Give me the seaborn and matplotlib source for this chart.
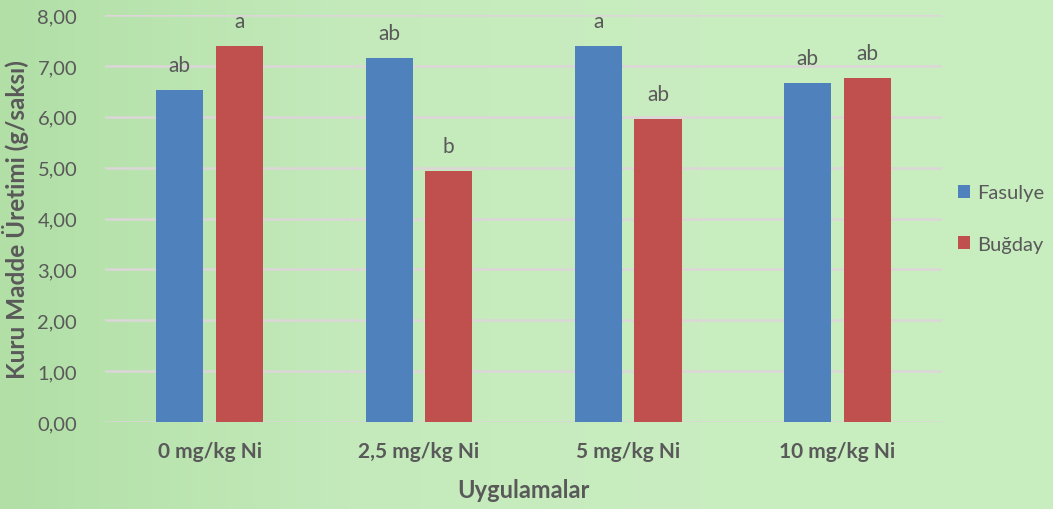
import numpy as np
import pandas as pd
import matplotlib
matplotlib.use("Agg")
import matplotlib.pyplot as plt
import seaborn as sns
from matplotlib.colors import LinearSegmentedColormap

categories = ["0 mg/kg Ni", "2,5 mg/kg Ni", "5 mg/kg Ni", "10 mg/kg Ni"]
series_names = ["Fasulye", "Buğday"]
fasulye = [6.53, 7.15, 7.39, 6.66]
bugday = [7.39, 4.93, 5.96, 6.76]
letters_fasulye = ["ab", "ab", "a", "ab"]
letters_bugday = ["a", "b", "ab", "ab"]
yticks = [0, 1, 2, 3, 4, 5, 6, 7, 8]

df = pd.DataFrame({
    "Uygulamalar": categories * 2,
    "Seri": [series_names[0]] * 4 + [series_names[1]] * 4,
    "Deger": fasulye + bugday,
})

sns.set_theme(style="white")
plt.rcParams["font.family"] = ["Lato", "DejaVu Sans"]
text_color = "#595959"

fig = plt.figure(figsize=(10.53, 5.10), dpi=100)
# background gradient
bg = fig.add_axes([0, 0, 1, 1], zorder=-10)
cmap = LinearSegmentedColormap.from_list("bg", ["#b1dfa6", "#c4eabb", "#c9edc0", "#c8edbf"])
grad = np.linspace(0, 1, 256).reshape(1, -1)
bg.imshow(grad, aspect="auto", cmap=cmap, extent=[0, 1, 0, 1])
bg.axis("off")

ax = fig.add_axes([0.0997, 0.1706, 0.795, 0.798])
ax.set_facecolor("none")

sns.barplot(data=df, x="Uygulamalar", y="Deger", hue="Seri",
            order=categories, hue_order=series_names,
            palette=["#4f81bd", "#c0504d"], width=0.57, gap=0.21,
            saturation=1, linewidth=0, edgecolor="none", ax=ax, zorder=3)

for cont, labs in zip(ax.containers, [letters_fasulye, letters_bugday]):
    ax.bar_label(cont, labels=labs, padding=11, fontsize=15, color=text_color)

ax.set_ylim(0, 8)
ax.set_xlim(-0.5, 3.5)
ax.set_yticks(yticks)
ax.set_yticklabels([f"{v:.2f}".replace(".", ",") for v in yticks], fontsize=14.5, color=text_color)
ax.tick_params(axis="y", length=0, pad=20)
ax.tick_params(axis="x", length=0, pad=14)
for t in ax.get_xticklabels():
    t.set_fontsize(15)
    t.set_fontweight("bold")
    t.set_color(text_color)
ax.yaxis.grid(True, color="#dcd6d8", linewidth=1.8, zorder=0)
ax.set_axisbelow(True)
for s in ax.spines.values():
    s.set_visible(False)

ax.set_xlabel("Uygulamalar", fontsize=17, fontweight="bold", color=text_color, labelpad=12)
ax.set_ylabel("Kuru Madde Üretimi (g/saksı)", fontsize=17.5, fontweight="bold", color=text_color, labelpad=6)

leg = ax.legend(loc="center left", bbox_to_anchor=(1.005, 0.5), frameon=False,
                fontsize=14.5, handlelength=0.6, handleheight=0.6, handletextpad=0.35,
                labelspacing=1.7, borderaxespad=0.2)
for t in leg.get_texts():
    t.set_color(text_color)

fig.savefig("out.png", dpi=100)
